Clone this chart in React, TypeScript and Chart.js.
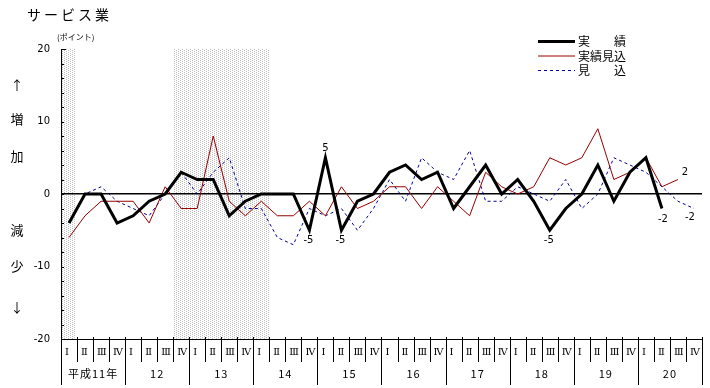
import React, { useEffect, useRef } from 'react';
import { Chart, registerables } from 'chart.js';

Chart.register(...registerables);

// ---------- data ----------
const years = ['平成11年', '12', '13', '14', '15', '16', '17', '18', '19', '20'];
const quarterNames = ['Ⅰ', 'Ⅱ', 'Ⅲ', 'Ⅳ'];
const categories = years.flatMap((y) => quarterNames.map((q) => `${y} ${q}`));

// 実績
const actual = [
  -4, 0, 0, -4, -3, -1, 0, 3, 2, 2,
  -3, -1, 0, 0, 0, -5, 5, -5, -1, 0,
  3, 4, 2, 3, -2, 1, 4, 0, 2, -1,
  -5, -2, 0, 4, -1, 3, 5, -2, null, null,
];
// 実績見込
const estimate = [
  -6, -3, -1, -1, -1, -4, 1, -2, -2, 8,
  -1, -3, -1, -3, -3, -1, -3, 1, -2, -1,
  1, 1, -2, 1, -1, -3, 3, 1, 0, 1,
  5, 4, 5, 9, 2, 3, 5, 1, 2, null,
];
// 見込
const forecast = [
  -4, 0, 1, -1, -2, -3, 0, 3, 0, 3,
  5, -2, -2, -6, -7, -2, -3, -2, -5, -2,
  2, -1, 5, 3, 2, 6, -1, -1, 1, 0,
  -1, 2, -2, 0, 5, 4, 3, 1, -1, -2,
];

const seriesNames = ['実\u3000\u3000績', '実績見込', '見\u3000\u3000込'];
const yMajorTicks = [20, 10, 0, -10, -20];
// shaded periods, in quarter-index units (edges)
const shadedRanges: [number, number][] = [
  [-0.5, 0.37],
  [6.5, 12.5],
];
// values annotated with their number: [series, index]
const annotatedPoints: [number, number][] = [
  [0, 16], [0, 15], [0, 17], [0, 30], [0, 37], [1, 38], [2, 39],
];

// ---------- styles ----------
const labelOffsets: [number, number][] = [
  [0, -9], [-1, 10], [-1, 10], [-1, 10], [1, 11], [7, -7], [-4, 9],
];
const JP = '"Noto Sans CJK JP", sans-serif';

const customPlugin = {
  id: 'customDraw',
  beforeDraw(chart: any) {
    const { ctx, chartArea: a, scales } = chart;
    const x = scales.x;
    const x0 = x.getPixelForValue(0);
    const step = x.getPixelForValue(1) - x0;
    ctx.save();
    ctx.fillStyle = '#fff';
    ctx.fillRect(0, 0, chart.width, chart.height);
    const pc = document.createElement('canvas');
    pc.width = 4;
    pc.height = 2;
    const p = pc.getContext('2d')!;
    p.fillStyle = '#fff';
    p.fillRect(0, 0, 4, 2);
    p.fillStyle = '#bdbdbd';
    p.fillRect(0, 0, 1, 1);
    p.fillRect(2, 1, 1, 1);
    const pat = ctx.createPattern(pc, 'repeat');
    ctx.fillStyle = pat;
    for (const [s, e] of shadedRanges) {
      const l = Math.round(x0 + s * step);
      const r = Math.round(x0 + e * step);
      ctx.fillRect(l, a.top, r - l, a.bottom - a.top);
    }
    ctx.restore();
  },
  afterDraw(chart: any) {
    const { ctx, chartArea: a, scales } = chart;
    const x = scales.x;
    const y = scales.y;
    const x0 = x.getPixelForValue(0);
    const step = x.getPixelForValue(1) - x0;
    ctx.save();
    ctx.strokeStyle = '#000';
    ctx.lineWidth = 1;
    // minor ticks on y axis (inward)
    for (let v = -20; v <= 20; v += 2) {
      const py = Math.round(y.getPixelForValue(v)) + 0.5;
      ctx.beginPath();
      ctx.moveTo(a.left, py);
      ctx.lineTo(a.left + (v === 20 ? 5 : 3), py);
      ctx.stroke();
    }
    // x axis line
    const by = Math.round(a.bottom) + 0.5;
    ctx.beginPath();
    ctx.moveTo(a.left, by);
    ctx.lineTo(a.right, by);
    ctx.stroke();
    // separators
    const n = categories.length;
    for (let k = 0; k <= n; k++) {
      const px = Math.round(x0 + (k - 0.5) * step) + 0.5;
      ctx.beginPath();
      ctx.moveTo(px, a.bottom - 2);
      ctx.lineTo(px, a.bottom + (k % 4 === 0 ? 46 : 23));
      ctx.stroke();
    }
    // quarter labels
    ctx.fillStyle = '#000';
    ctx.textBaseline = 'middle';
    ctx.textAlign = 'left';
    ctx.font = '10px "DejaVu Serif", serif';
    for (let i = 0; i < n; i++) {
      const px = x0 + (i - 0.5) * step;
      ctx.fillText(quarterNames[i % 4], px + 4, a.bottom + 13);
    }
    // year labels
    ctx.textAlign = 'center';
    ctx.font = '11px ' + JP;
    (ctx as any).letterSpacing = '1px';
    years.forEach((yr, j) => {
      const cx = x0 + (4 * j + 1.5) * step;
      ctx.fillText(yr, cx, a.bottom + 35);
    });
    (ctx as any).letterSpacing = '0px';
    // legend
    const rows = [41.5, 56, 70.5];
    chart.data.datasets.forEach((ds: any, i: number) => {
      ctx.save();
      ctx.strokeStyle = ds.borderColor;
      ctx.lineWidth = ds.borderWidth;
      ctx.setLineDash(ds.borderDash || []);
      ctx.beginPath();
      ctx.moveTo(538, rows[i]);
      ctx.lineTo(575, rows[i]);
      ctx.stroke();
      ctx.restore();
      ctx.fillStyle = '#000';
      ctx.textAlign = 'left';
      ctx.font = '12px ' + JP;
      ctx.fillText(ds.label, 578, rows[i]);
    });
    // point labels
    ctx.font = '10px "DejaVu Sans", sans-serif';
    ctx.textAlign = 'center';
    annotatedPoints.forEach(([s, idx], k) => {
      const val = chart.data.datasets[s].data[idx];
      const px = x.getPixelForValue(idx);
      const py = y.getPixelForValue(val);
      const [dx, dy] = labelOffsets[k];
      ctx.fillText(String(val), px + dx, py + dy);
    });
    ctx.restore();
  },
};

export default function App() {
  const ref = useRef<HTMLCanvasElement>(null);
  useEffect(() => {
    const chart = new Chart(ref.current!, {
      type: 'line',
      data: {
        labels: categories,
        datasets: [
          { label: seriesNames[0], data: actual, borderColor: '#000000', borderWidth: 3, pointRadius: 0, tension: 0, spanGaps: false },
          { label: seriesNames[1], data: estimate, borderColor: '#990000', borderWidth: 1, pointRadius: 0, tension: 0 },
          { label: seriesNames[2], data: forecast, borderColor: '#000099', borderWidth: 1, borderDash: [3, 3], pointRadius: 0, tension: 0 },
        ],
      },
      options: {
        responsive: false,
        animation: false,
        devicePixelRatio: 1,
        layout: { padding: { left: 0, right: 8, top: 49, bottom: 49 } },
        plugins: { legend: { display: false }, tooltip: { enabled: false } },
        scales: {
          x: { type: 'category', offset: true, display: false },
          y: {
            min: -20,
            max: 20,
            afterFit: (s: any) => { s.width = 61; },
            ticks: {
              stepSize: 2,
              autoSkip: false,
              color: '#000',
              padding: 11,
              font: { family: 'DejaVu Sans', size: 10 },
              callback: (v: any) => (yMajorTicks.includes(Number(v)) ? String(v) : ''),
            },
            grid: {
              drawTicks: false,
              color: (c: any) => (c.tick && c.tick.value === 0 ? '#000' : 'rgba(0,0,0,0)'),
              lineWidth: 1.5,
            },
            border: { display: true, color: '#000', width: 1 },
          },
        },
      },
      plugins: [customPlugin],
    } as any);
    return () => chart.destroy();
  }, []);

  const side: [string, number][] = [['↑', 85], ['増', 119], ['加', 156], ['減', 230], ['少', 266], ['↓', 307]];
  return (
    <div style={{ position: 'absolute', left: 0, top: 0, width: 710, height: 388, background: '#fff', fontFamily: JP }}>
      <canvas ref={ref} width={710} height={388} style={{ display: 'block' }} />
      <div style={{ position: 'absolute', left: 27, top: 5, fontSize: 14, letterSpacing: 3, lineHeight: '18px', whiteSpace: 'nowrap' }}>サービス業</div>
      <div style={{ position: 'absolute', left: 57, top: 31, fontSize: 8, lineHeight: '11px', whiteSpace: 'nowrap' }}>(ポイント)</div>
      {side.map(([t, cy]) => (
        <div key={t} style={{ position: 'absolute', left: 17, top: cy, transform: 'translate(-50%,-50%)', fontSize: 13, lineHeight: '14px' }}>{t}</div>
      ))}
    </div>
  );
}
